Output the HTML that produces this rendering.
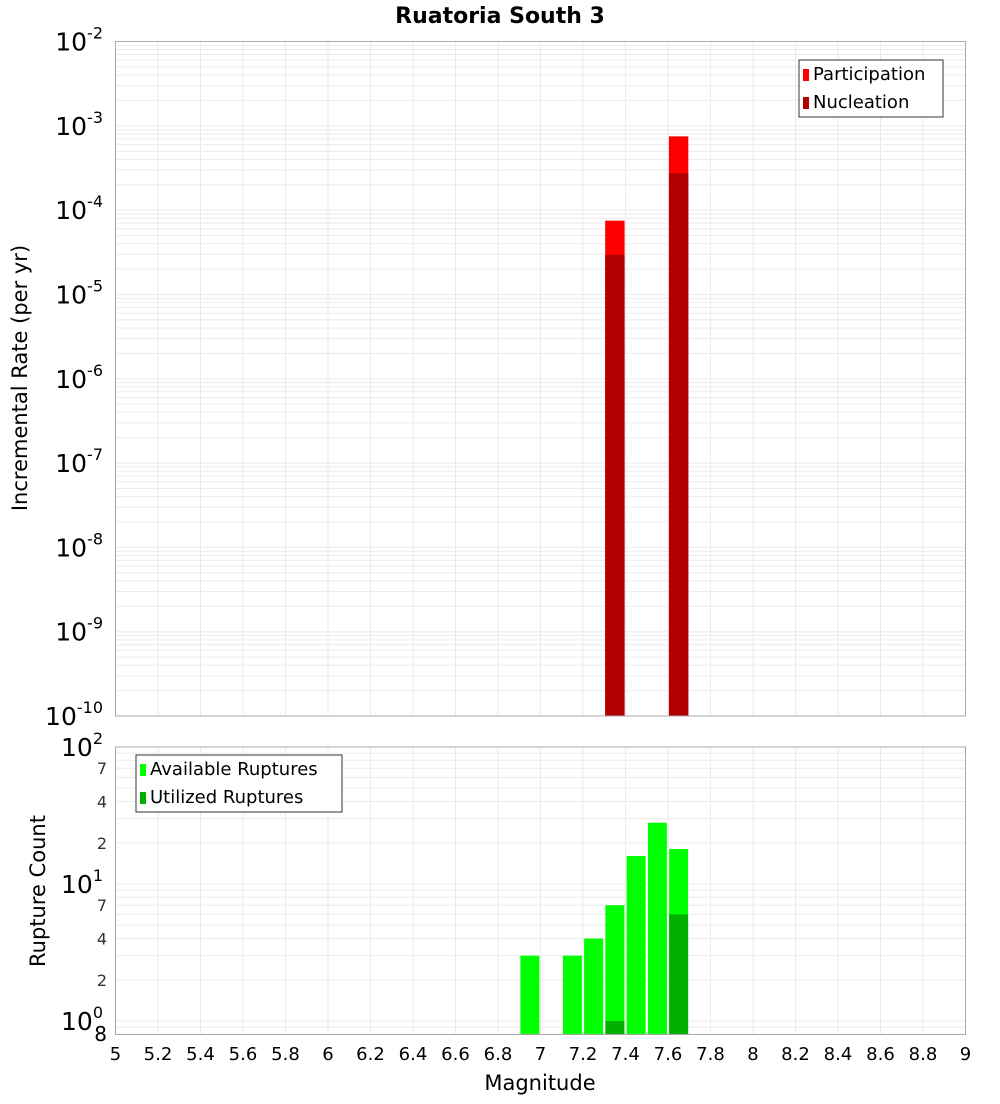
<!DOCTYPE html>
<html><head><meta charset="utf-8"><style>
body{margin:0;background:#fff;font-family:"DejaVu Sans","Liberation Sans",sans-serif;}
</style></head><body>
<svg id="chart" width="1000" height="1100" xmlns="http://www.w3.org/2000/svg" font-family="DejaVu Sans, Liberation Sans, sans-serif">
<text x="500" y="23" text-anchor="middle" font-size="22" font-weight="bold">Ruatoria South 3</text>
<g id="topPlot"></g><g id="botPlot"></g>
<text x="540" y="1090" text-anchor="middle" font-size="21">Magnitude</text>
<text transform="translate(27,378) rotate(-90)" text-anchor="middle" font-size="21">Incremental Rate (per yr)</text>
<text transform="translate(45,891) rotate(-90)" text-anchor="middle" font-size="21">Rupture Count</text>
</svg>
<script>
const rateMags=[7.35,7.65];
const participation=[7.5e-5,7.5e-4];
const nucleation=[2.95e-5,2.73e-4];
const countMags=[6.95,7.15,7.25,7.35,7.45,7.55,7.65];
const available=[3,3,4,7,16,28,18];
const utilMags=[7.35,7.65];
const utilized=[1,6];
const xTicks=[5,5.2,5.4,5.6,5.8,6,6.2,6.4,6.6,6.8,7,7.2,7.4,7.6,7.8,8,8.2,8.4,8.6,8.8,9];
const topExps=[-2,-3,-4,-5,-6,-7,-8,-9,-10];
const botMinor=[7,4,2];

const NS='http://www.w3.org/2000/svg';
const L=115.5,R=965.5;
const X=m=>L+(m-5)*(R-L)/4;
const T0=41.5,T1=716;
const YT=v=>T0+(-2-Math.log10(v))*(T1-T0)/8;
const B0=747,B1=1034.5;
const YB=v=>884+(1-Math.log10(v))*137;
function mk(p,tag,a,txt){const e=document.createElementNS(NS,tag);for(const k in a)e.setAttribute(k,a[k]);if(txt!=null)e.textContent=txt;p.appendChild(e);return e;}
const gTop=document.getElementById('topPlot'),gBot=document.getElementById('botPlot');
for(let e=-10;e<-2;e++)for(let k=1;k<10;k++){const y=YT(k*Math.pow(10,e));const g=mk(gTop,'line',{x1:L,x2:R,y1:y,y2:y,stroke:'#ebebeb','stroke-width':1});

}
for(const t of xTicks){const x=X(t);const g=mk(gTop,'line',{x1:x,x2:x,y1:T0,y2:T1,stroke:'#ebebeb'});


const h=mk(gBot,'line',{x1:x,x2:x,y1:B0,y2:B1,stroke:'#ebebeb'});

}
for(let e=-1;e<2;e++)for(let k=1;k<10;k++){const v=k*Math.pow(10,e);if(v<0.8||v>100)continue;const y=YB(v);const g=mk(gBot,'line',{x1:L,x2:R,y1:y,y2:y,stroke:'#ebebeb'});

}
rateMags.forEach((m,i)=>{const x=X(m)-9.7;
const p=mk(gTop,'rect',{x:x,y:YT(participation[i]),width:19.4,height:T1-YT(participation[i]),fill:'#ff0000'});


const n=mk(gTop,'rect',{x:x,y:YT(nucleation[i]),width:19.4,height:T1-YT(nucleation[i]),fill:'#b00000'});

});
const tb=mk(gTop,'rect',{x:L,y:T0,width:R-L,height:T1-T0,fill:'none',stroke:'#aaa'});


for(const e of topExps){const y=YT(Math.pow(10,e));const t=mk(gTop,'text',{x:103,y:y+9,'text-anchor':'end','font-size':25});


t.textContent='10';mk(t,'tspan',{dy:-12,'font-size':16},String(e));}
countMags.forEach((m,i)=>{const r=mk(gBot,'rect',{x:X(m)-9.5,y:YB(available[i]),width:19,height:B1-YB(available[i]),fill:'#00ff00'});

});
utilMags.forEach((m,i)=>{const r=mk(gBot,'rect',{x:X(m)-9.5,y:YB(utilized[i]),width:19,height:B1-YB(utilized[i]),fill:'#00b000'});

});
const bb=mk(gBot,'rect',{x:L,y:B0,width:R-L,height:B1-B0,fill:'none',stroke:'#aaa'});


[[100,'2'],[10,'1'],[1,'0']].forEach(([v,e])=>{const y=YB(v);const t=mk(gBot,'text',{x:103,y:y+9,'text-anchor':'end','font-size':25});


t.textContent='10';mk(t,'tspan',{dy:-12,'font-size':16},e);});
for(const d of [10,1])for(const k of botMinor){const t=mk(gBot,'text',{x:107,y:YB(k*d)+6,'text-anchor':'end','font-size':16,fill:'#333'},String(k));

}
const e8=mk(gBot,'text',{x:107,y:1041,'text-anchor':'end','font-size':20},'8');


for(const t of xTicks){const x=mk(gBot,'text',{x:X(t),y:1060,'text-anchor':'middle','font-size':18},String(t));

}
function legend(p,x,y,w,items,name){const g=mk(p,'g',{});


mk(g,'rect',{x:x,y:y,width:w,height:57,fill:'#fff',stroke:'#333'});
items.forEach(([c,l],i)=>{mk(g,'rect',{x:x+4,y:y+9+i*28,width:6,height:12,fill:c});mk(g,'text',{x:x+14,y:y+20+i*28,'font-size':18},l);});}
legend(gTop,799,60,144,[['#ff0000','Participation'],['#b00000','Nucleation']],'top-legend');
legend(gBot,136,755,206,[['#00ff00','Available Ruptures'],['#00b000','Utilized Ruptures']],'bottom-legend');
</script>
</body></html>
